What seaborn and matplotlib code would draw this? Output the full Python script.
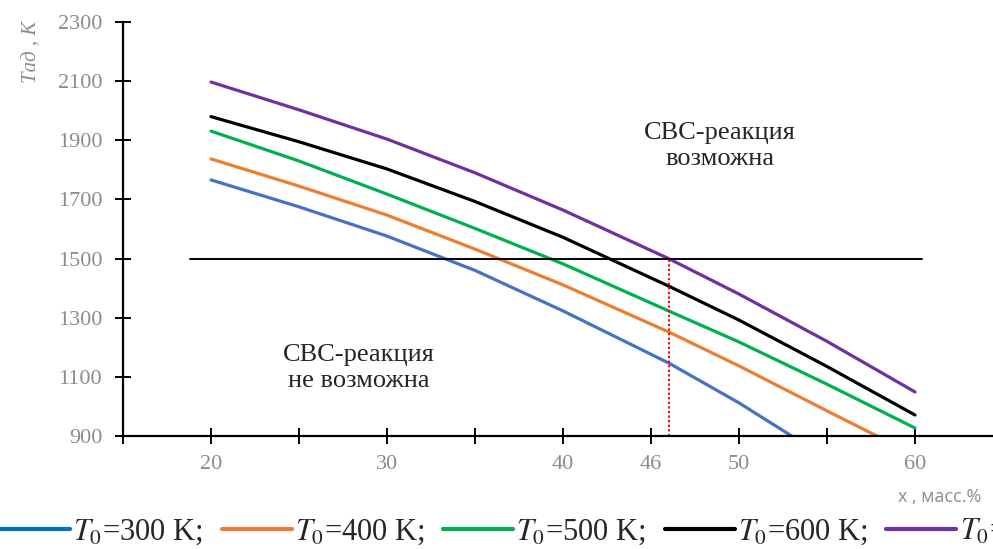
import numpy as np
import pandas as pd
import matplotlib
matplotlib.use("Agg")
import matplotlib.pyplot as plt
from matplotlib.lines import Line2D
import seaborn as sns

# ============================================================
# DATA
# ============================================================

x_vals = [20, 25, 30, 35, 40, 46, 50, 55, 60]

t300 = [1766, 1675, 1576, 1460, 1323, 1147, 1012, 825, 640]
t400 = [1837, 1745, 1647, 1532, 1411, 1252, 1137, 985, 835]
t500 = [1931, 1830, 1718, 1602, 1482, 1323, 1218, 1075, 927]
t600 = [1980, 1895, 1803, 1693, 1572, 1407, 1292, 1135, 971]
t700 = [2097, 2003, 1904, 1790, 1664, 1500, 1380, 1220, 1049]

series_names = ["300", "400", "500", "600", "700"]
line_colors = ["#4472C4", "#ED7D31", "#00B050", "#000000", "#7030A0"]
legend_colors = ["#0070C0", "#ED7D31", "#00B050", "#000000", "#7030A0"]

x_ticks = [15, 20, 25, 30, 35, 40, 45, 50, 55, 60]
x_tick_labels = ["", "20", "", "30", "", "40", "46", "50", "", "60"]
y_ticks = [900, 1100, 1300, 1500, 1700, 1900, 2100, 2300]

T_LIMIT = 1500
X_LIMIT = 46

df = pd.DataFrame({
    "x": x_vals * 5,
    "T": t300 + t400 + t500 + t600 + t700,
    "T0": sum([[n] * len(x_vals) for n in series_names], []),
})

# ============================================================
# STYLE
# ============================================================

sns.set_style("ticks")
plt.rcParams["font.family"] = ["Liberation Serif", "DejaVu Serif"]
plt.rcParams["mathtext.fontset"] = "stix"

GREY = "#8c8c8c"

fig = plt.figure(figsize=(9.93, 5.49), dpi=100)
ax = fig.add_axes([123 / 993, 1 - 436 / 549, (1003 - 123) / 993, (436 - 22) / 549])

sns.lineplot(
    data=df,
    x="x",
    y="T",
    hue="T0",
    palette=line_colors,
    linewidth=2.3,
    legend=False,
    ax=ax,
)

# threshold line and marker
ax.plot([18.8, 60.4], [T_LIMIT, T_LIMIT], color="black", linewidth=1.4)
ax.plot([X_LIMIT, X_LIMIT], [900, T_LIMIT], color="red", linewidth=1.5,
        linestyle=(0, (1, 1.2)))

ax.set_xlim(15, 65)
ax.set_ylim(900, 2300)

ax.set_xticks(x_ticks)
ax.set_xticklabels(x_tick_labels)
ax.set_yticks(y_ticks)

for s in ["top", "right"]:
    ax.spines[s].set_visible(False)
for s in ["left", "bottom"]:
    ax.spines[s].set_color("black")
    ax.spines[s].set_linewidth(1.6)

ax.tick_params(axis="both", direction="inout", length=12, width=1.4,
               colors="black", labelcolor=GREY, labelsize=16,
               bottom=True, left=True)
ax.tick_params(axis="x", pad=8)
ax.tick_params(axis="y", pad=9)
ax.set_xlabel("")
ax.set_ylabel("")

# region labels
ax.text(48.9, 1881, "СВС-реакция\nвозможна", ha="center", va="center",
        fontsize=19, linespacing=1.2)
ax.text(28.4, 1130, "СВС-реакция\nне возможна", ha="center", va="center",
        fontsize=19, linespacing=1.2)

# axis titles
fig.text(32 / 993, 1 - 52 / 549, "Tад , K", rotation=90, ha="center",
         va="center", fontsize=15, style="italic", color=GREY)
fig.text(898 / 993, 1 - 497 / 549, "x , масс.%", ha="left", va="center",
         fontsize=13, color=GREY, family=["Open Sans", "DejaVu Sans"])

# legend
handles = [Line2D([], [], color=c, linewidth=3) for c in legend_colors]
labels = [r"$T_0$=" + n + " K;" for n in series_names[:4]] + [r"$T_0$=700 K"]

fig.legend(
    handles,
    labels,
    loc="lower left",
    bbox_to_anchor=(0.0, 0.004),
    ncol=5,
    frameon=False,
    fontsize=22,
    handlelength=2.3,
    handletextpad=0.1,
    columnspacing=0.6,
    borderpad=0,
    borderaxespad=0,
)

fig.savefig("out.png", dpi=100)
